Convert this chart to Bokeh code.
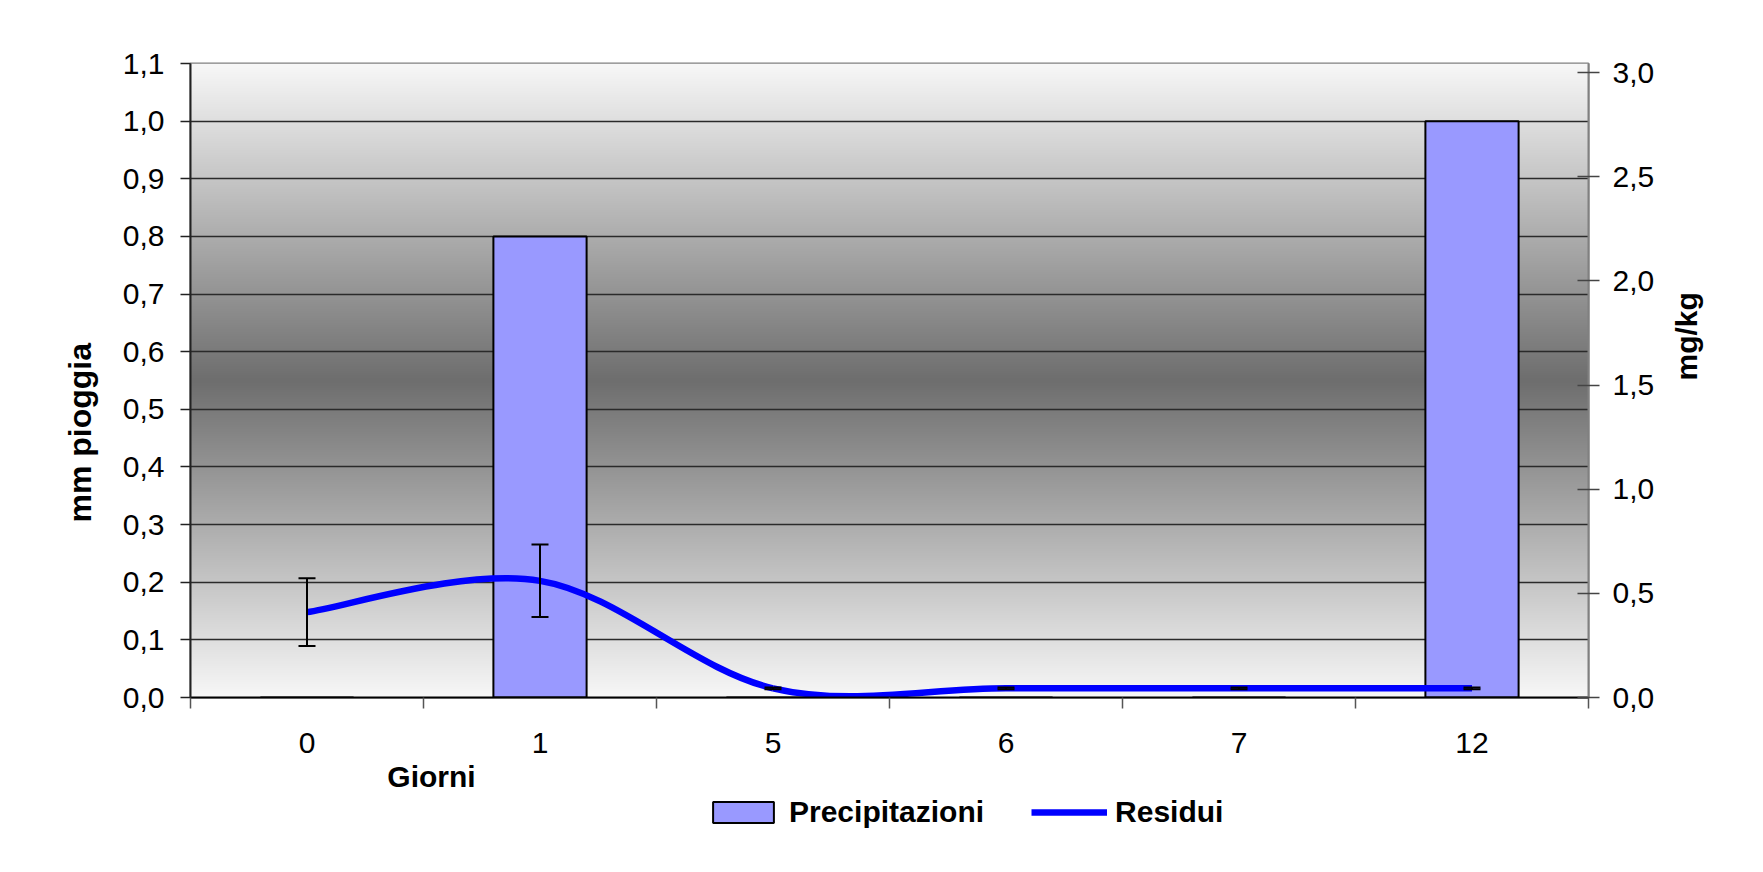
import math
import numpy as np
from bokeh.plotting import figure
from bokeh.layouts import column
from bokeh.models import (Range1d, LinearAxis, FixedTicker, CustomJSTickFormatter,
                          Whisker, TeeHead, ColumnDataSource, Legend, LegendItem, Title, Label)
from bokeh.embed import file_html
from bokeh.resources import INLINE

# ---------------- data ----------------
categories = ["0", "1", "5", "6", "7", "12"]
precipitazioni = [0.0, 0.8, 0.0, 0.0, 0.0, 1.0]          # mm pioggia (left axis)
residui = [0.41, 0.56, 0.044, 0.044, 0.044, 0.044]         # mg/kg (right axis)
errore_residui = [0.163, 0.174, 0.004, 0.004, 0.004, 0.004]
left_ticks = [0.0, 0.1, 0.2, 0.3, 0.4, 0.5, 0.6, 0.7, 0.8, 0.9, 1.0, 1.1]
right_ticks = [0.0, 0.5, 1.0, 1.5, 2.0, 2.5, 3.0]
left_max = 1.1
right_max = 3.044

FONT = "Liberation Sans"
BAR_FILL = "#9999FF"
LINE_BLUE = "#0000FF"

n = len(categories)
xpos = [i + 0.5 for i in range(n)]
boundaries = [float(i) for i in range(n + 1)]

p = figure(frame_width=1398, frame_height=634, output_backend="svg", toolbar_location=None,
           x_range=Range1d(0, n), y_range=Range1d(0, left_max),
           min_border_left=190, min_border_right=159, min_border_top=63, min_border_bottom=60)
p.extra_y_ranges = {"right": Range1d(0, right_max)}
p.background_fill_color = "white"
p.border_fill_color = "white"
p.outline_line_color = "#808080"
p.outline_line_width = 2

# ---- plot-area gradient (white edges, dark grey centre) ----
N = 634
yy = (np.arange(N) + 0.5) / N
t = np.abs(yy - 0.5) / 0.5
c = (110 + (248 - 110) * t).astype(np.uint8)
img = np.empty((N, 1), dtype=np.uint32)
view = img.view(dtype=np.uint8).reshape((N, 1, 4))
view[:, 0, 0] = c
view[:, 0, 1] = c
view[:, 0, 2] = c
view[:, 0, 3] = 255
p.image_rgba(image=[img], x=0, y=0, dw=n, dh=left_max, level="image")

# ---- grid ----
p.xgrid.visible = False
p.ygrid.ticker = FixedTicker(ticks=left_ticks[1:-1])
p.ygrid.grid_line_color = "#2a2a2a"
p.ygrid.grid_line_width = 1.5

# ---- bars ----
src = ColumnDataSource(dict(x=xpos, cat=categories, prec=precipitazioni, res=residui,
                            upper=[r + e for r, e in zip(residui, errore_residui)],
                            lower=[r - e for r, e in zip(residui, errore_residui)]))
bars = p.vbar(x="x", top="prec", width=0.4, source=src, fill_color=BAR_FILL,
              line_color="black", line_width=2)

# ---- smoothed line (Excel-style bezier through the data points) ----
P = list(zip(xpos, residui))
bx0, by0, bx1, by1, cx0, cy0, cx1, cy1 = ([] for _ in range(8))
for i in range(n - 1):
    pm = P[max(i - 1, 0)]
    pa = P[i]
    pb = P[i + 1]
    pn = P[min(i + 2, n - 1)]
    bx0.append(pa[0]); by0.append(pa[1])
    bx1.append(pb[0]); by1.append(pb[1])
    cx0.append(pa[0] + (pb[0] - pm[0]) / 6.0); cy0.append(pa[1] + (pb[1] - pm[1]) / 6.0)
    cx1.append(pb[0] - (pn[0] - pa[0]) / 6.0); cy1.append(pb[1] - (pn[1] - pa[1]) / 6.0)
curve = p.bezier(x0=bx0, y0=by0, x1=bx1, y1=by1, cx0=cx0, cy0=cy0, cx1=cx1, cy1=cy1,
                 line_color=LINE_BLUE, line_width=6.5, y_range_name="right")

# ---- error bars ----
whisk = Whisker(source=src, base="x", upper="upper", lower="lower", y_range_name="right",
                line_color="black", line_width=2, level="overlay",
                upper_head=TeeHead(size=17, line_color="black", line_width=2),
                lower_head=TeeHead(size=17, line_color="black", line_width=2))
p.add_layout(whisk)

# ---- axes ----
fmt = CustomJSTickFormatter(code="return tick.toFixed(1).replace('.', ',');")

ly = p.yaxis[0]
ly.ticker = FixedTicker(ticks=left_ticks)
ly.formatter = fmt
ly.axis_line_color = "#222222"
ly.axis_line_width = 2
ly.major_tick_line_color = "#222222"
ly.major_tick_line_width = 1.5
ly.major_tick_out = 10
ly.major_tick_in = 0
ly.minor_tick_line_color = None
ly.major_label_standoff = 16
ly.major_label_text_font = FONT
ly.major_label_text_font_size = "30px"
ly.major_label_text_color = "black"

ry = LinearAxis(y_range_name="right", ticker=FixedTicker(ticks=right_ticks), formatter=fmt)
ry.axis_line_color = "#808080"
ry.axis_line_width = 2
ry.major_tick_line_color = "#444444"
ry.major_tick_line_width = 1.5
ry.major_tick_out = 11
ry.major_tick_in = 11
ry.minor_tick_line_color = None
ry.major_label_standoff = 13
ry.major_label_text_font = FONT
ry.major_label_text_font_size = "30px"
ry.major_label_text_color = "black"
ry.axis_label = "mg/kg"
ry.axis_label_orientation = math.pi / 2
ry.axis_label_standoff = 29
ry.axis_label_text_font = FONT
ry.axis_label_text_font_size = "30px"
ry.axis_label_text_font_style = "bold"
ry.axis_label_text_color = "black"
p.add_layout(ry, "right")

xa = p.xaxis[0]
xa.ticker = FixedTicker(ticks=xpos, minor_ticks=boundaries)
xa.major_label_overrides = {x: c for x, c in zip(xpos, categories)}
xa.axis_line_color = "black"
xa.axis_line_width = 2
xa.major_tick_line_color = None
xa.major_tick_out = 0
xa.major_tick_in = 0
xa.minor_tick_line_color = "#555555"
xa.minor_tick_line_width = 1.5
xa.minor_tick_out = 11
xa.minor_tick_in = 0
xa.major_label_standoff = 24
xa.major_label_text_font = FONT
xa.major_label_text_font_size = "30px"
xa.major_label_text_color = "black"

# ---- left axis title (off-centre, like the original) ----
p.add_layout(Title(text="mm pioggia", align="left", offset=175, vertical_align="bottom",
                   standoff=44, text_font=FONT, text_font_size="32px", text_font_style="bold",
                   text_color="black"), "left")

# ---- strip below the chart: x-axis title and legend ----
p2 = figure(width=p.min_border_left + 1398 + p.min_border_right, height=99,
            output_backend="svg", toolbar_location=None, x_axis_type=None, y_axis_type=None,
            x_range=Range1d(0, n), y_range=Range1d(0, left_max), min_border=0)
p2.extra_y_ranges = {"right": Range1d(0, right_max)}
p2.outline_line_color = None
p2.background_fill_color = "white"
p2.border_fill_color = "white"
p2.grid.visible = False

p2.add_layout(Label(x=241, y=80, x_units="screen", y_units="screen", text="Giorni",
                    text_align="center", text_baseline="alphabetic", text_font=FONT,
                    text_font_size="30px", text_font_style="bold", text_color="black"))

# hidden copies of the two series, used only for the legend swatches
sw_bar = p2.vbar(x=xpos, top=precipitazioni, width=0.4, fill_color=BAR_FILL,
                 line_color="black", line_width=2, visible=False)
sw_line = p2.line(x=xpos, y=residui, line_color=LINE_BLUE, line_width=6.5,
                  y_range_name="right", visible=False)
legend = Legend(items=[LegendItem(label="Precipitazioni", renderers=[sw_bar]),
                       LegendItem(label="Residui", renderers=[sw_line])],
                orientation="horizontal", location=(515, 27.5), click_policy="none",
                label_text_font=FONT, label_text_font_style="bold", label_text_font_size="30px",
                label_text_color="black",
                glyph_width=76, glyph_height=26, label_height=26, label_standoff=8, spacing=47,
                padding=0, margin=0, border_line_color=None, background_fill_alpha=0)
p2.add_layout(legend, "center")

layout = column(p, p2, spacing=0)
open("out.html", "w").write(file_html(layout, INLINE))
